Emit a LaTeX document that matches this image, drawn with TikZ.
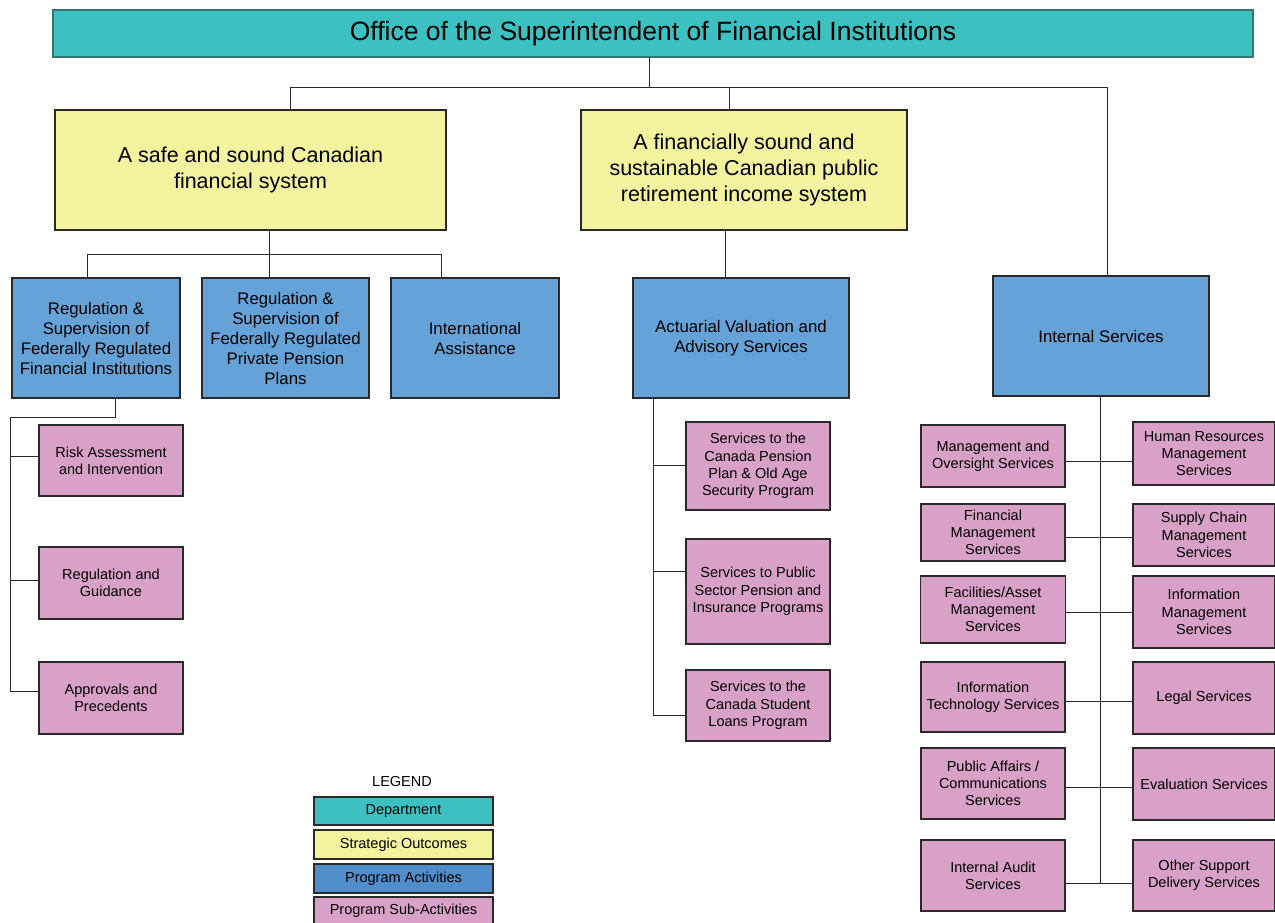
\documentclass[tikz,border=0pt]{standalone}
\usepackage{fontspec}
\setmainfont{Liberation Sans}
\definecolor{cDept}{HTML}{3DC0C1}
\definecolor{cSO}{HTML}{F3F29E}
\definecolor{cPA}{HTML}{65A2D7}
\definecolor{cPAleg}{HTML}{508ECB}
\definecolor{cSub}{HTML}{D9A1C8}
\definecolor{cLine}{HTML}{2A2A2A}
\tikzset{
  box/.style={draw=cLine, line width=1.1pt, inner sep=0pt, outer sep=0pt, align=center, anchor=center},
  dept/.style={box, fill=cDept, draw=cLine!50!cDept, font=\fontsize{26.5}{30}\selectfont},
  so/.style={box, fill=cSO, font=\fontsize{21.5}{26}\selectfont},
  pa/.style={box, fill=cPA, font=\fontsize{16.8}{20}\selectfont},
  sub/.style={box, fill=cSub, font=\fontsize{14.5}{17.3}\selectfont},
  leg/.style={box, font=\fontsize{14.5}{17}\selectfont, minimum width=179pt, minimum height=28pt},
  conn/.style={draw=cLine, line width=1pt},
}
\begin{document}
\begin{tikzpicture}[x=1pt,y=-1pt]
\useasboundingbox (0,0) rectangle (1275,922);
\fill[white] (0,0) rectangle (1275,922);

% Department
\node[dept, minimum width=1200pt, minimum height=47pt] (title) at (653,33.5) {Office of the Superintendent of Financial Institutions};

% Strategic outcomes
\node[so, minimum width=391pt, minimum height=120pt] (Y1) at (250.5,170) {A safe and sound Canadian\\financial system};
\node[so, minimum width=326pt, minimum height=120pt] (Y2) at (744,170) {A financially sound and\\sustainable Canadian public\\retirement income system};

% Program activities
\node[pa, minimum width=168pt, minimum height=120pt] (B1) at (96,338) {Regulation \&\\Supervision of\\Federally Regulated\\Financial Institutions};
\node[pa, minimum width=167pt, minimum height=120pt] (B2) at (285.5,338) {Regulation \&\\Supervision of\\Federally Regulated\\Private Pension\\Plans};
\node[pa, minimum width=168pt, minimum height=120pt] (B3) at (475,338) {International\\Assistance};
\node[pa, minimum width=216pt, minimum height=120pt] (B4) at (741,338) {Actuarial Valuation and\\Advisory Services};
\node[pa, minimum width=216pt, minimum height=120pt] (IS) at (1101,336) {Internal Services};

% Sub-activities under B1
\node[sub, minimum width=144pt, minimum height=71pt] (R1) at (111,460.5) {Risk Assessment\\and Intervention};
\node[sub, minimum width=144pt, minimum height=72pt] (R2) at (111,583) {Regulation and\\Guidance};
\node[sub, minimum width=144pt, minimum height=72pt] (R3) at (111,698) {Approvals and\\Precedents};

% Sub-activities under B4
\node[sub, minimum width=144pt, minimum height=88pt] (A1) at (758,466) {Services to the\\Canada Pension\\Plan \& Old Age\\Security Program};
\node[sub, minimum width=144pt, minimum height=105pt] (A2) at (758,591.5) {Services to Public\\Sector Pension and\\Insurance Programs};
\node[sub, minimum width=144pt, minimum height=71pt] (A3) at (758,705.5) {Services to the\\Canada Student\\Loans Program};

% Internal services sub-activities
\node[sub, minimum width=144pt, minimum height=62pt] (L1) at (993,456) {Management and\\Oversight Services};
\node[sub, minimum width=144pt, minimum height=57pt] (L2) at (993,532.5) {Financial\\Management\\Services};
\node[sub, minimum width=145pt, minimum height=67pt] (L3) at (993,609.5) {Facilities/Asset\\Management\\Services};
\node[sub, minimum width=144pt, minimum height=70pt] (L4) at (993,697) {Information\\Technology Services};
\node[sub, minimum width=144pt, minimum height=71pt] (L5) at (993,783.5) {Public Affairs /\\Communications\\Services};
\node[sub, minimum width=144pt, minimum height=71pt] (L6) at (993,875.5) {Internal Audit\\Services};

\node[sub, minimum width=142pt, minimum height=63pt] (Q1) at (1204,453.5) {Human Resources\\Management\\Services};
\node[sub, minimum width=142pt, minimum height=62pt] (Q2) at (1204,535) {Supply Chain\\Management\\Services};
\node[sub, minimum width=142pt, minimum height=72pt] (Q3) at (1204,612) {Information\\Management\\Services};
\node[sub, minimum width=142pt, minimum height=72pt] (Q4) at (1204,698) {Legal Services};
\node[sub, minimum width=142pt, minimum height=72pt] (Q5) at (1204,784) {Evaluation Services};
\node[sub, minimum width=142pt, minimum height=71pt] (Q6) at (1204,875.5) {Other Support\\Delivery Services};

% Connectors: top level
\coordinate (j0) at (649,87);
\coordinate (h1) at (290,87);
\coordinate (h2) at (729,87);
\coordinate (h3) at (1107,87);
\draw[conn] (title.south -| j0) -- (j0);
\draw[conn] (h1) -- (h3);
\draw[conn] (h1) -- (h1 |- Y1.north);
\draw[conn] (h2) -- (h2 |- Y2.north);
\draw[conn] (h3) -- (h3 |- IS.north);

% Y1 to program activities
\coordinate (k0) at (269,254);
\coordinate (k1) at (87,254);
\coordinate (k3) at (441,254);
\draw[conn] (Y1.south -| k0) -- (k0);
\draw[conn] (k1) -- (k3);
\draw[conn] (k1) -- (k1 |- B1.north);
\draw[conn] (k0) -- (k0 |- B2.north);
\draw[conn] (k3) -- (k3 |- B3.north);

% Y2 to B4
\coordinate (m0) at (725,254);
\draw[conn] (Y2.south -| m0) -- (m0 |- B4.north);

% B1 to its sub-activities
\coordinate (n0) at (115,417);
\coordinate (n1) at (10,417);
\coordinate (n2) at (10,456);
\coordinate (n3) at (10,580);
\coordinate (n4) at (10,691);
\draw[conn] (B1.south -| n0) -- (n0) -- (n1) -- (n4);
\draw[conn] (n2) -- (n2 -| R1.west);
\draw[conn] (n3) -- (n3 -| R2.west);
\draw[conn] (n4) -- (n4 -| R3.west);

% B4 to its sub-activities
\coordinate (p1) at (653,465);
\coordinate (p2) at (653,571);
\coordinate (p3) at (653,715);
\draw[conn] (B4.south -| p3) -- (p3);
\draw[conn] (p1) -- (p1 -| A1.west);
\draw[conn] (p2) -- (p2 -| A2.west);
\draw[conn] (p3) -- (p3 -| A3.west);

% Internal services spine
\coordinate (s1) at (1100,461);
\coordinate (s2) at (1100,537);
\coordinate (s3) at (1100,612);
\coordinate (s4) at (1100,701);
\coordinate (s5) at (1100,787);
\coordinate (s6) at (1100,883);
\draw[conn] (IS.south -| s6) -- (s6);
\foreach \i in {1,...,6}{
  \draw[conn] (s\i -| L\i.east) -- (s\i -| Q\i.west);
}

% Legend
\node[font=\fontsize{14.5}{17}\selectfont, inner sep=0pt] (legT) at (402,781) {LEGEND};
\node[leg, fill=cDept] (lg1) at (403.5,811) {Department};
\node[leg, fill=cSO, minimum height=29pt] (lg2) at (403.5,844.5) {Strategic Outcomes};
\node[leg, fill=cPAleg, minimum height=29pt] (lg3) at (403.5,878.5) {Program Activities};
\node[leg, fill=cSub] (lg4) at (403.5,911) {Program Sub-Activities};
\end{tikzpicture}
\end{document}
